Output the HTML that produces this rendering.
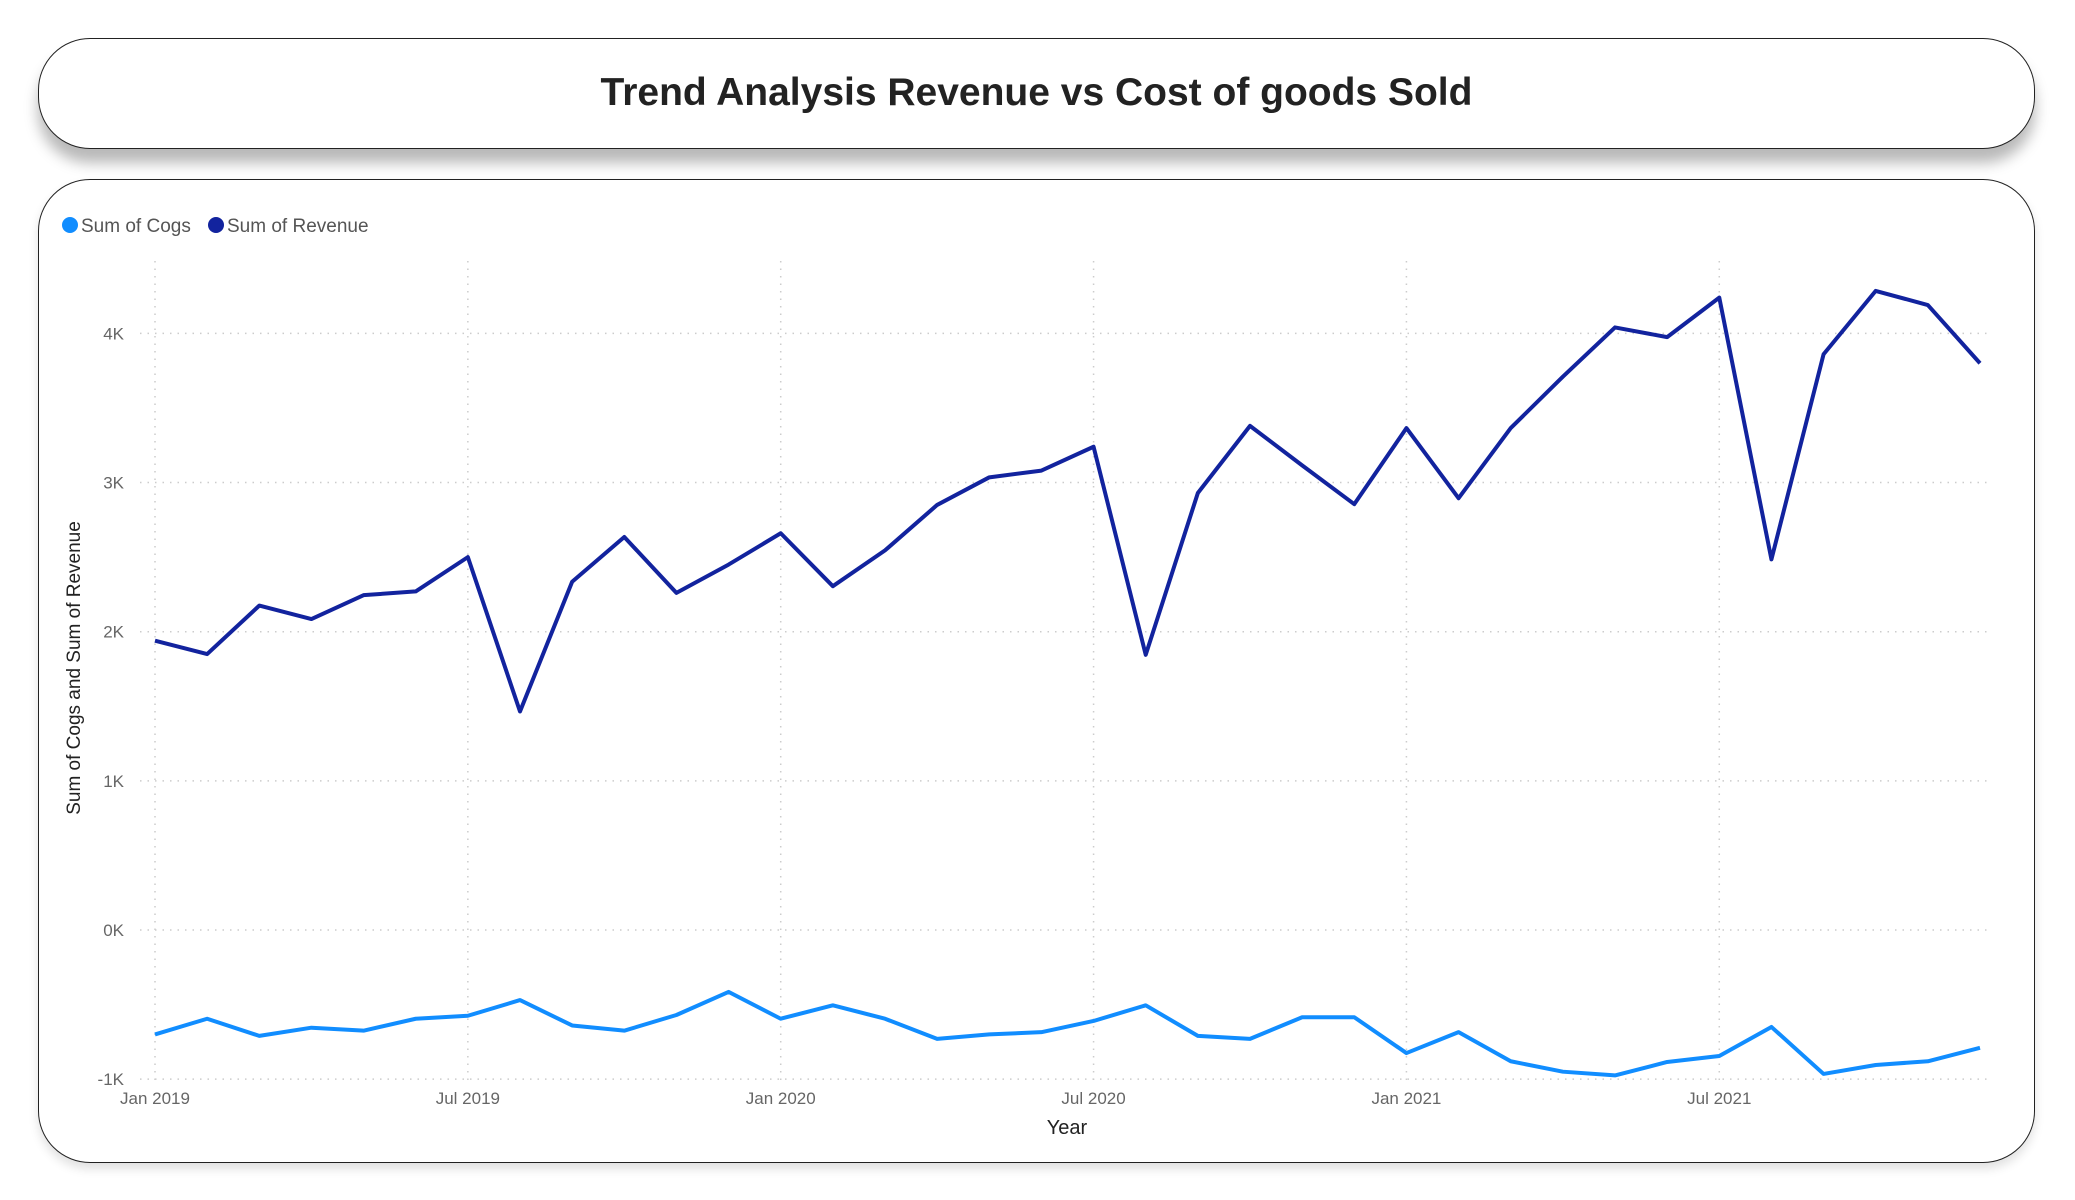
<!DOCTYPE html>
<html><head><meta charset="utf-8"><style>
body{margin:0;width:2075px;height:1200px;background:#fff;overflow:hidden;font-family:"Liberation Sans",sans-serif}
.card{position:absolute;left:38px;width:1997px;border:1.5px solid #222;background:#fff;box-sizing:border-box}
</style></head><body>
<div class="card" style="top:38px;height:111px;border-radius:52px;box-shadow:0 14px 14px rgba(0,0,0,0.28)">
<div style="text-align:center;font-weight:bold;font-size:39px;line-height:108px;color:#222">Trend Analysis Revenue vs Cost of goods Sold</div>
</div>
<div class="card" style="top:179px;height:984px;border-radius:52px;box-shadow:0 6px 10px rgba(0,0,0,0.12)"></div>
<svg id="chart" width="2075" height="1200" style="position:absolute;left:0;top:0" font-family="Liberation Sans, sans-serif"></svg>
<script>
const months=["Jan 2019","Feb 2019","Mar 2019","Apr 2019","May 2019","Jun 2019","Jul 2019","Aug 2019","Sep 2019","Oct 2019","Nov 2019","Dec 2019","Jan 2020","Feb 2020","Mar 2020","Apr 2020","May 2020","Jun 2020","Jul 2020","Aug 2020","Sep 2020","Oct 2020","Nov 2020","Dec 2020","Jan 2021","Feb 2021","Mar 2021","Apr 2021","May 2021","Jun 2021","Jul 2021","Aug 2021","Sep 2021","Oct 2021","Nov 2021","Dec 2021"];
const revenue=[1940,1850,2175,2085,2245,2270,2500,1465,2335,2635,2260,2450,2660,2305,2545,2850,3035,3080,3240,1845,2930,3380,3115,2855,3365,2895,3365,3710,4040,3975,4240,2485,3860,4285,4190,3800];
const cogs=[-700,-595,-710,-655,-675,-595,-575,-470,-640,-675,-570,-415,-595,-505,-595,-730,-700,-685,-610,-505,-710,-730,-585,-585,-825,-685,-880,-950,-975,-885,-845,-650,-965,-905,-880,-790];
const yTicks=[-1000,0,1000,2000,3000,4000];
const yTickLabels=["-1K","0K","1K","2K","3K","4K"];
const xTickIdx=[0,6,12,18,24,30];
const xTickLabels=["Jan 2019","Jul 2019","Jan 2020","Jul 2020","Jan 2021","Jul 2021"];
const svg=document.getElementById('chart');const NS="http://www.w3.org/2000/svg";
const x=i=>155+i*(1980-155)/35;
const y=v=>930-v*0.14915;
function mk(t,a,txt){const e=document.createElementNS(NS,t);for(const k in a)e.setAttribute(k,a[k]);if(txt!==undefined)e.textContent=txt;svg.appendChild(e);return e;}
yTicks.forEach((v,i)=>{
 const g=mk('line',{x1:140,x2:1991,y1:y(v),y2:y(v),stroke:'#ccc','stroke-width':1.5,'stroke-dasharray':'1.5 6'});
 
 
 const t=mk('text',{x:124,y:y(v)+6,'text-anchor':'end','font-size':17,fill:'#666'},yTickLabels[i]);
 
 
});
xTickIdx.forEach((m,i)=>{
 const g=mk('line',{x1:x(m),x2:x(m),y1:261,y2:1080,stroke:'#ccc','stroke-width':1.5,'stroke-dasharray':'1.5 6'});
 
 
 const t=mk('text',{x:x(m),y:1104,'text-anchor':'middle','font-size':17,fill:'#666'},xTickLabels[i]);
 
 
});
function line(vals,color,name){
 const p=mk('polyline',{points:vals.map((v,i)=>x(i)+','+y(v)).join(' '),fill:'none',stroke:color,'stroke-width':4,'stroke-linejoin':'round'});
 
 
}
line(cogs,'#118DFF','cogs-line');
line(revenue,'#12239E','revenue-line');
const yt=mk('text',{x:0,y:0,transform:'translate(80,668) rotate(-90)','text-anchor':'middle','font-size':19,fill:'#222'},'Sum of Cogs and Sum of Revenue');


const xt=mk('text',{x:1067,y:1134,'text-anchor':'middle','font-size':20,fill:'#222'},'Year');


const l1=mk('circle',{cx:70,cy:225,r:8,fill:'#118DFF'});


const l1t=mk('text',{x:81,y:232,'font-size':19,fill:'#555'},'Sum of Cogs');


const l2=mk('circle',{cx:216,cy:225,r:8,fill:'#12239E'});


const l2t=mk('text',{x:227,y:232,'font-size':19,fill:'#555'},'Sum of Revenue');


</script>
</body></html>
